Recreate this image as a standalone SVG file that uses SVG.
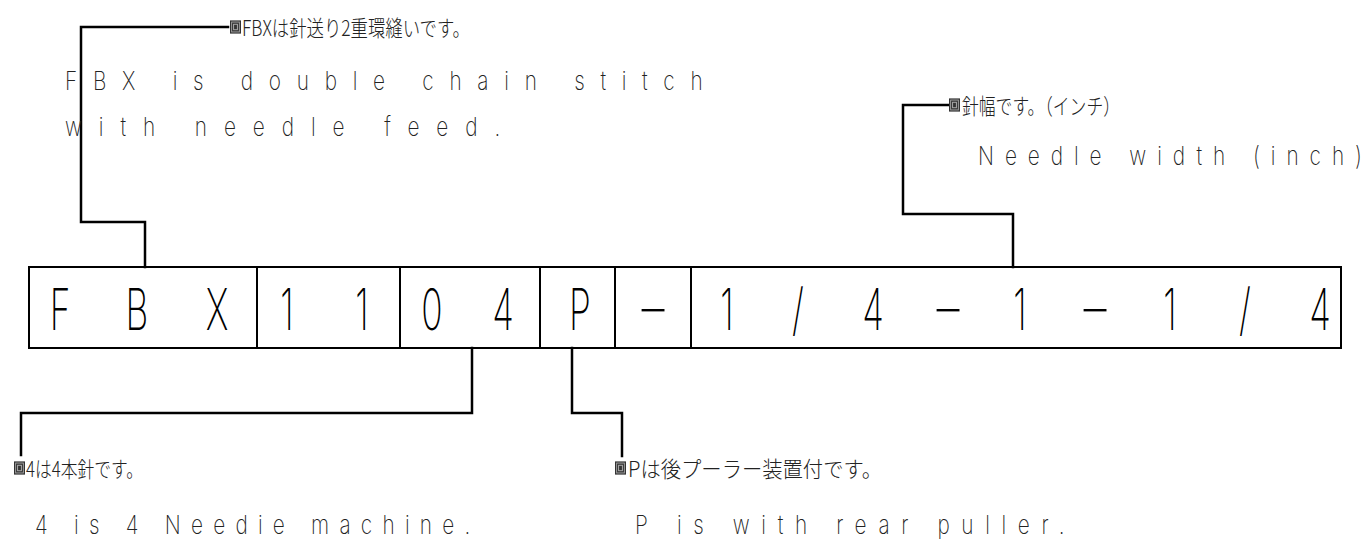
<svg xmlns="http://www.w3.org/2000/svg" xmlns:xlink="http://www.w3.org/1999/xlink" width="1366" height="550" viewBox="0 0 1366 550">
<style>
.ln{fill:none;stroke:#000;stroke-width:2.5;stroke-linecap:square}
.bx{fill:none;stroke:#000;stroke-width:2}
.big{font-family:Inter,"Liberation Sans",sans-serif;font-size:57px;fill:#000;text-anchor:middle;font-weight:200}
.en{font-family:Inter,"Liberation Sans",sans-serif;font-size:26px;fill:#222;font-weight:200}
.jp{font-family:"Noto Sans CJK JP",sans-serif;font-size:22px;fill:#222;font-weight:300}
</style>
<defs>
<symbol id="ico" viewBox="0 0 10 12">
<rect x="0" y="0" width="10" height="12" fill="#333"/>
<rect x="1.5" y="1.5" width="7" height="9" fill="none" stroke="#aaa" stroke-width="0.8"/>
<rect x="3.3" y="3.5" width="3.4" height="5" fill="none" stroke="#bbb" stroke-width="0.8"/>
</symbol>
</defs>
<rect x="0" y="0" width="1366" height="550" fill="#fff"/>
<g id="connectors">
<polyline class="ln" points="145,267 145,222 81,222 81,27 228,27"/>
<polyline class="ln" points="1013,267 1013,214 903,214 903,105 948,105"/>
<polyline class="ln" points="472,348 472,413 21,413 21,455"/>
<polyline class="ln" points="572,348 572,413 622,413 622,456"/>
</g>
<g id="code-box">
<rect class="bx" x="29" y="267" width="1312" height="81"/>
<line class="bx" x1="257" y1="267" x2="257" y2="348"/>
<line class="bx" x1="400" y1="267" x2="400" y2="348"/>
<line class="bx" x1="540" y1="267" x2="540" y2="348"/>
<line class="bx" x1="615" y1="267" x2="615" y2="348"/>
<line class="bx" x1="691" y1="267" x2="691" y2="348"/>
<g id="cell-fbx">
<text class="big" transform="translate(60,330) scale(0.62,1)">F</text>
<text class="big" transform="translate(137,330) scale(0.62,1)">B</text>
<text class="big" transform="translate(217,330) scale(0.62,1)">X</text>
</g>
<g id="cell-11">
<text class="big" transform="translate(287,330) scale(0.62,1)">1</text>
<text class="big" transform="translate(362,330) scale(0.62,1)">1</text>
</g>
<g id="cell-04">
<text class="big" transform="translate(432,330) scale(0.62,1)">0</text>
<text class="big" transform="translate(503,330) scale(0.62,1)">4</text>
</g>
<g id="cell-p">
<text class="big" transform="translate(580,330) scale(0.62,1)">P</text>
</g>
<g id="cell-dash">
<text class="big" transform="translate(653,328) scale(1.4,1)">-</text>
</g>
<g id="cell-width">
<text class="big" transform="translate(727,330) scale(0.62,1)">1</text>
<text class="big" transform="translate(798,330) scale(0.62,1)">/</text>
<text class="big" transform="translate(873,330) scale(0.62,1)">4</text>
<text class="big" transform="translate(948,328) scale(1.4,1)">-</text>
<text class="big" transform="translate(1020,330) scale(0.62,1)">1</text>
<text class="big" transform="translate(1095,328) scale(1.4,1)">-</text>
<text class="big" transform="translate(1170,330) scale(0.62,1)">1</text>
<text class="big" transform="translate(1245,330) scale(0.62,1)">/</text>
<text class="big" transform="translate(1320,330) scale(0.62,1)">4</text>
</g>
</g>
<g id="note-fbx">
<use xlink:href="#ico" x="230" y="20" width="11" height="14"/>
<text class="jp" x="242" y="36" textLength="228" lengthAdjust="spacingAndGlyphs">FBXは針送り2重環縫いです。</text>
<text class="en" transform="translate(65,90) scale(0.8,1)" textLength="797" lengthAdjust="spacing">FBX is double chain stitch</text>
<text class="en" transform="translate(65,136) scale(0.8,1)" textLength="544" lengthAdjust="spacing">with needle feed.</text>
</g>
<g id="note-width">
<use xlink:href="#ico" x="949" y="98" width="11" height="14"/>
<text class="jp" x="962" y="114" textLength="158" lengthAdjust="spacingAndGlyphs">針幅です。（インチ）</text>
<text class="en" transform="translate(978,165) scale(0.8,1)" textLength="480" lengthAdjust="spacing">Needle width (inch)</text>
</g>
<g id="note-4">
<use xlink:href="#ico" x="14" y="461" width="11" height="14"/>
<text class="jp" x="26" y="477" textLength="117" lengthAdjust="spacingAndGlyphs">4は4本針です。</text>
<text class="en" transform="translate(35,534) scale(0.8,1)" textLength="544" lengthAdjust="spacing">4 is 4 Needie machine.</text>
</g>
<g id="note-p">
<use xlink:href="#ico" x="615" y="461" width="11" height="14"/>
<text class="jp" x="628" y="477" textLength="254" lengthAdjust="spacingAndGlyphs">Pは後プーラー装置付です。</text>
<text class="en" transform="translate(635,534) scale(0.8,1)" textLength="537" lengthAdjust="spacing">P is with rear puller.</text>
</g>
</svg>
